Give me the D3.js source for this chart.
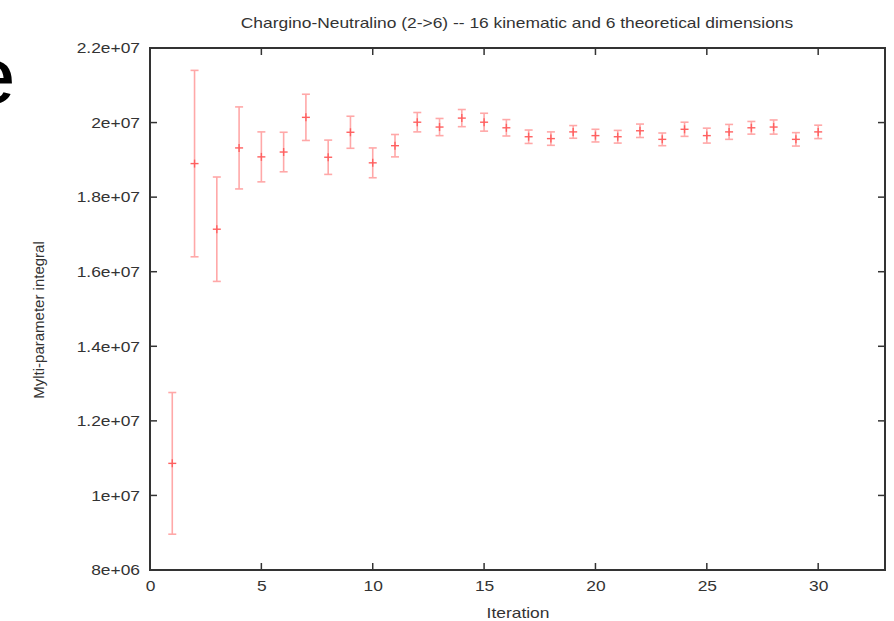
<!DOCTYPE html>
<html>
<head>
<meta charset="utf-8">
<script src="https://cdn.jsdelivr.net/npm/d3@7"></script>
<style>
  body { margin: 0; background: #fff; }
  svg { font-family: "Liberation Sans", Arial, sans-serif; }
</style>
</head>
<body>
<svg id="drawing_region"></svg>
<script>
// iterations and integral estimates with their errors
var iterations = d3.range(1, 31);
var values = [1.086e7, 1.890e7, 1.714e7, 1.932e7, 1.908e7, 1.921e7, 2.014e7, 1.907e7, 1.974e7, 1.892e7,
              1.938e7, 2.001e7, 1.988e7, 2.012e7, 2.001e7, 1.986e7, 1.962e7, 1.957e7, 1.975e7, 1.965e7,
              1.962e7, 1.978e7, 1.955e7, 1.982e7, 1.965e7, 1.975e7, 1.986e7, 1.988e7, 1.955e7, 1.975e7];
var errors = [1.9e6, 2.5e6, 1.4e6, 1.1e6, 0.67e6, 0.53e6, 0.62e6, 0.46e6, 0.43e6, 0.4e6,
              0.3e6, 0.26e6, 0.23e6, 0.23e6, 0.24e6, 0.22e6, 0.18e6, 0.18e6, 0.17e6, 0.17e6,
              0.17e6, 0.18e6, 0.17e6, 0.19e6, 0.2e6, 0.2e6, 0.17e6, 0.19e6, 0.18e6, 0.18e6];
var xTicks = [0, 5, 10, 15, 20, 25, 30];
var yTicks = [8e6, 1e7, 1.2e7, 1.4e7, 1.6e7, 1.8e7, 2e7, 2.2e7];
var yTickLabels = ["8e+06", "1e+07", "1.2e+07", "1.4e+07", "1.6e+07", "1.8e+07", "2e+07", "2.2e+07"];

var data = iterations.map((it, i) => ({x: it, y: values[i], e: errors[i]}));

var config = {
  width: 894,
  height: 621,
  margin: {top: 48, right: 9, bottom: 51, left: 150}
};
// the picture is a bit stretched sideways, so is its horizontal text
var stretch = 1.16;

var svg = d3.select('#drawing_region')
  .attr('width', config.width)
  .attr('height', config.height);

var inner_width = config.width - config.margin.left - config.margin.right;
var inner_height = config.height - config.margin.top - config.margin.bottom;

var chart = svg.append('g')
  .attr('transform', `translate(${config.margin.left}, ${config.margin.top})`);

var xscale = d3.scaleLinear().domain([0, 33]).range([0, inner_width]);
var yscale = d3.scaleLinear().domain([8e6, 2.2e7]).range([inner_height, 0]);

// stray letter from the slide behind the plot
svg.append('text')
  .attr('transform', `translate(16, 103) scale(${stretch}, 1)`)
  .attr('text-anchor', 'end')
  .style('font-size', '79px')
  .attr('fill', '#000')
  .text('e');

// axes: labels outside, ticks drawn inward below
var tickColor = '#333';
var xaxis = d3.axisBottom(xscale).tickValues(xTicks).tickSize(0).tickPadding(10);
var yaxis = d3.axisLeft(yscale).tickValues(yTicks).tickSize(0).tickPadding(9)
  .tickFormat((d, i) => yTickLabels[i]);

var xg = chart.append('g')
  .attr('transform', `translate(0, ${inner_height})`)
  .call(xaxis);
var yg = chart.append('g').call(yaxis);
[xg, yg].forEach(g => {
  g.select('.domain').remove();
  g.selectAll('text').attr('fill', '#333').style('font-size', '15px');
});
xg.selectAll('text').attr('transform', `scale(${stretch}, 1)`);
yg.selectAll('text')
  .attr('x', -10 / stretch)
  .attr('transform', `scale(${stretch}, 1)`);

// inward ticks on all four sides
chart.selectAll('.xtb').data(xTicks.slice(1)).join('line')
  .attr('x1', d => xscale(d)).attr('x2', d => xscale(d))
  .attr('y1', inner_height).attr('y2', inner_height - 7)
  .attr('stroke', tickColor).attr('stroke-width', 1.5);
chart.selectAll('.xtt').data(xTicks.slice(1)).join('line')
  .attr('x1', d => xscale(d)).attr('x2', d => xscale(d))
  .attr('y1', 0).attr('y2', 7)
  .attr('stroke', tickColor).attr('stroke-width', 1.5);
chart.selectAll('.ytl').data(yTicks.slice(1, -1)).join('line')
  .attr('x1', 0).attr('x2', 7)
  .attr('y1', d => yscale(d)).attr('y2', d => yscale(d))
  .attr('stroke', tickColor).attr('stroke-width', 1.5);
chart.selectAll('.ytr').data(yTicks.slice(1, -1)).join('line')
  .attr('x1', inner_width).attr('x2', inner_width - 7)
  .attr('y1', d => yscale(d)).attr('y2', d => yscale(d))
  .attr('stroke', tickColor).attr('stroke-width', 1.5);

// frame
chart.append('rect')
  .attr('x', 0).attr('y', 0)
  .attr('width', inner_width).attr('height', inner_height)
  .attr('fill', 'none').attr('stroke', '#333').attr('stroke-width', 2);

// error bars
var barColor = '#ffa8a8';
var cap = 4;
var bars = chart.append('g').selectAll('g').data(data).join('g');
bars.append('line')
  .attr('x1', d => xscale(d.x)).attr('x2', d => xscale(d.x))
  .attr('y1', d => yscale(d.y + d.e)).attr('y2', d => yscale(d.y - d.e))
  .attr('stroke', barColor).attr('stroke-width', 1.6);
bars.append('line')
  .attr('x1', d => xscale(d.x) - cap).attr('x2', d => xscale(d.x) + cap)
  .attr('y1', d => yscale(d.y + d.e)).attr('y2', d => yscale(d.y + d.e))
  .attr('stroke', barColor).attr('stroke-width', 1.6);
bars.append('line')
  .attr('x1', d => xscale(d.x) - cap).attr('x2', d => xscale(d.x) + cap)
  .attr('y1', d => yscale(d.y - d.e)).attr('y2', d => yscale(d.y - d.e))
  .attr('stroke', barColor).attr('stroke-width', 1.6);
// point markers
bars.append('line')
  .attr('x1', d => xscale(d.x) - 4).attr('x2', d => xscale(d.x) + 4)
  .attr('y1', d => yscale(d.y)).attr('y2', d => yscale(d.y))
  .attr('stroke', '#ff6060').attr('stroke-width', 1.4);
bars.append('line')
  .attr('x1', d => xscale(d.x)).attr('x2', d => xscale(d.x))
  .attr('y1', d => yscale(d.y) - 4).attr('y2', d => yscale(d.y) + 4)
  .attr('stroke', '#ff6060').attr('stroke-width', 1.4);

// titles
svg.append('text')
  .attr('transform', `translate(517, 28) scale(${stretch}, 1)`)
  .attr('text-anchor', 'middle')
  .style('font-size', '15px').attr('fill', '#333')
  .text('Chargino-Neutralino (2->6) -- 16 kinematic and 6 theoretical dimensions');
svg.append('text')
  .attr('transform', `translate(518, 618) scale(${stretch}, 1)`)
  .attr('text-anchor', 'middle')
  .style('font-size', '15px').attr('fill', '#333')
  .text('Iteration');
svg.append('text')
  .attr('transform', 'translate(44, 320) rotate(-90)')
  .attr('text-anchor', 'middle')
  .style('font-size', '15px').attr('fill', '#333')
  .text('Mylti-parameter integral');
</script>
</body>
</html>
